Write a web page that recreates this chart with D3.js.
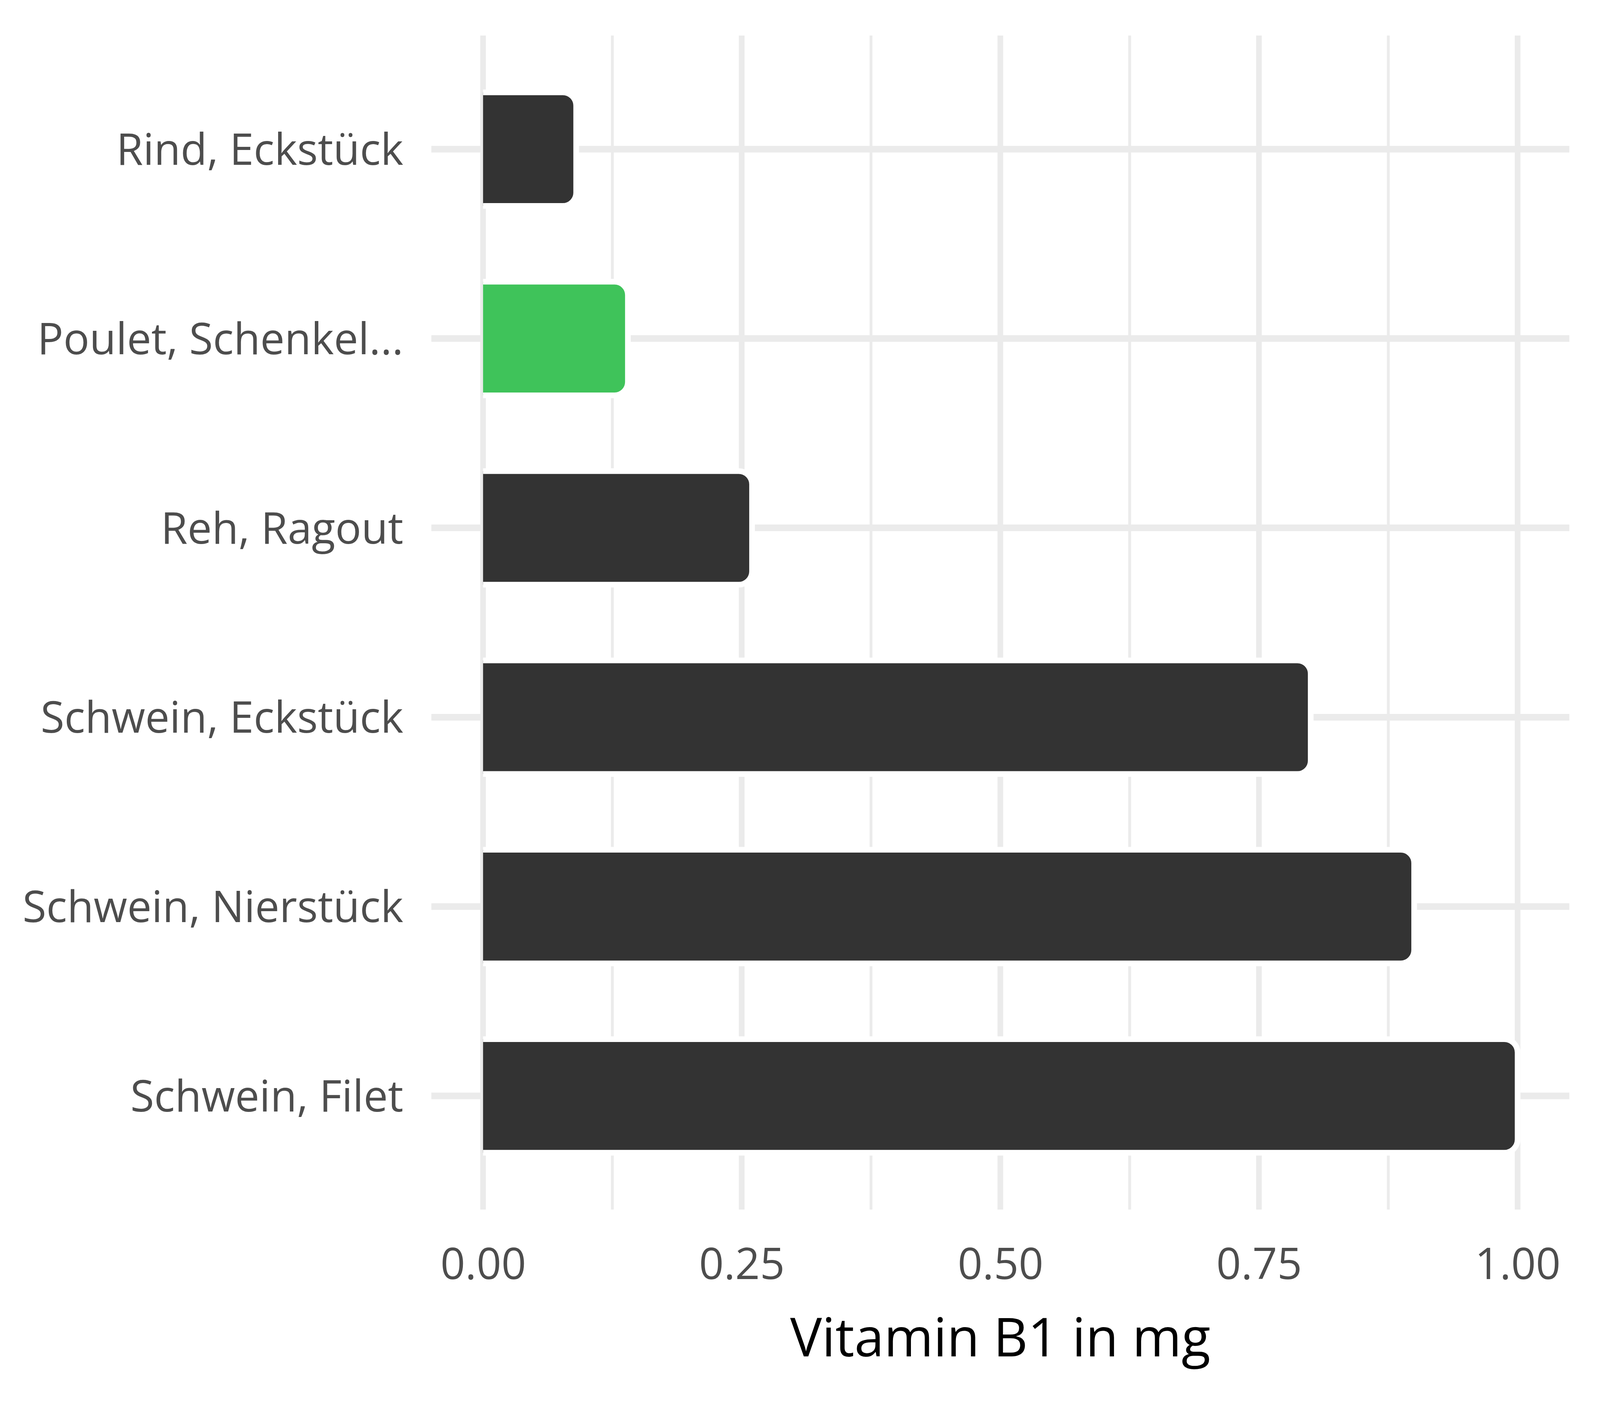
<!DOCTYPE html>
<html>
<head>
<meta charset="utf-8">
<script src="https://cdn.jsdelivr.net/npm/d3@7"></script>
<style>
  html, body { margin: 0; padding: 0; overflow: hidden; background: #fff; }
  svg { display: block; }
  text { font-family: "Open Sans", "DejaVu Sans", sans-serif; }
</style>
</head>
<body>
<svg></svg>
<script>
// daten
const categories = ["Rind, Eckstück", "Poulet, Schenkel...", "Reh, Ragout",
                    "Schwein, Eckstück", "Schwein, Nierstück", "Schwein, Filet"];
const values = [0.09, 0.14, 0.26, 0.80, 0.90, 1.00];
const highlighted = ["Poulet, Schenkel..."];
const majorTicks = [0, 0.25, 0.5, 0.75, 1.0];
const minorTicks = [0.125, 0.375, 0.625, 0.875];
const xTitle = "Vitamin B1 in mg";

// layout ist fuer 4800x3600 gedacht, wird an das fenster angepasst
const W = window.innerWidth || 4800;
const H = window.innerHeight || 3600;
const sx = W / 4800;
const sy = H / 3600;
const fs = sx;
const s = Math.min(sx, sy);

const svg = d3.select("svg").attr("width", W).attr("height", H);

const panel = { left: 1294 * sx, right: 4708 * sx, top: 91 * sy, bottom: 3097 * sy };

const x = d3.scaleLinear()
    .domain([-0.05, 1.05])
    .range([panel.left, panel.right]);

const y = d3.scaleBand()
    .domain(categories)
    .range([panel.top, panel.bottom])
    .paddingInner(0.4)
    .paddingOuter(0.3);

const grid = svg.append("g");

// vertikale hilfslinien
grid.selectAll(".minor")
    .data(minorTicks)
    .join("line")
    .attr("x1", d => x(d)).attr("x2", d => x(d))
    .attr("y1", panel.top).attr("y2", panel.bottom)
    .attr("stroke", "#ebebeb")
    .attr("stroke-width", 8.5 * sx);

grid.selectAll(".major")
    .data(majorTicks)
    .join("line")
    .attr("x1", d => x(d)).attr("x2", d => x(d))
    .attr("y1", panel.top).attr("y2", panel.bottom)
    .attr("stroke", "#ebebeb")
    .attr("stroke-width", 17 * sx);

// horizontale hilfslinien
grid.selectAll(".cat")
    .data(categories)
    .join("line")
    .attr("x1", panel.left).attr("x2", panel.right)
    .attr("y1", d => y(d) + y.bandwidth() / 2)
    .attr("y2", d => y(d) + y.bandwidth() / 2)
    .attr("stroke", "#ebebeb")
    .attr("stroke-width", 17 * sy);

// balken mit runden ecken rechts (links offen, daher ohne rand)
function barOutline(x0, x1, y0, h, r) {
    r = Math.min(r, (x1 - x0), h / 2);
    return `M${x0},${y0}` +
        `H${x1 - r}` +
        `A${r},${r} 0 0 1 ${x1},${y0 + r}` +
        `V${y0 + h - r}` +
        `A${r},${r} 0 0 1 ${x1 - r},${y0 + h}` +
        `H${x0}`;
}

const bars = svg.append("g")
    .selectAll("g")
    .data(categories)
    .join("g");

bars.append("path")
    .attr("d", (d, i) => barOutline(x(0), x(values[i]), y(d), y.bandwidth(), 40 * s) + "Z")
    .attr("fill", d => highlighted.includes(d) ? "#3fc35a" : "#333333");

bars.append("path")
    .attr("d", (d, i) => barOutline(x(0), x(values[i]), y(d), y.bandwidth(), 40 * s))
    .attr("fill", "none")
    .attr("stroke", "#ffffff")
    .attr("stroke-width", 17 * s);

// achsen
const xAxis = svg.append("g")
    .attr("transform", `translate(0,${panel.bottom})`)
    .call(d3.axisBottom(x).tickValues(majorTicks).tickFormat(d3.format(".2f")).tickSize(0));
xAxis.select(".domain").remove();
xAxis.selectAll("text")
    .attr("y", 178 * sy)
    .attr("dy", null)
    .attr("fill", "#4d4d4d")
    .style("font-size", (130 * fs) + "px");

const yAxis = svg.append("g")
    .attr("transform", `translate(${panel.left},0)`)
    .call(d3.axisLeft(y).tickSize(0));
yAxis.select(".domain").remove();
yAxis.selectAll("text")
    .attr("x", -84 * sx)
    .attr("dy", "0.36em")
    .attr("fill", "#4d4d4d")
    .style("font-size", (130 * fs) + "px");

svg.append("text")
    .attr("x", (panel.left + panel.right) / 2)
    .attr("y", 3473 * sy)
    .attr("text-anchor", "middle")
    .attr("fill", "#000")
    .style("font-size", (160 * fs) + "px")
    .text(xTitle);
</script>
</body>
</html>
